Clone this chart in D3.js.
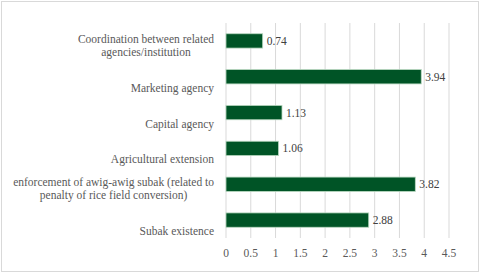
<!DOCTYPE html>
<html>
<head>
<meta charset="utf-8">
<script src="https://cdn.jsdelivr.net/npm/d3@7"></script>
<style>
  body { margin: 0; background: #fff; }
  svg { display: block; }
  text { font-family: "Liberation Serif", "Times New Roman", "DejaVu Serif", serif; }
</style>
</head>
<body>
<svg></svg>
<script>
const width = 480;
const height = 274;

// data, top to bottom as drawn
const categories = [
    ["Coordination between related", "agencies/institution"],
    ["Marketing agency"],
    ["Capital agency"],
    ["Agricultural extension"],
    ["enforcement of awig-awig subak (related to", "penalty of rice field conversion)"],
    ["Subak existence"]
];
const values = [0.74, 3.94, 1.13, 1.06, 3.82, 2.88];
const xTicks = [0, 0.5, 1, 1.5, 2, 2.5, 3, 3.5, 4, 4.5];

const svg = d3.select("svg").attr("width", width).attr("height", height);

// chart frame
svg.append("rect")
    .attr("x", 1.5).attr("y", 1.5)
    .attr("width", width - 3).attr("height", height - 4)
    .attr("fill", "#fff")
    .attr("stroke", "#d9d9d9");

const plotLeft = 226, plotRight = 449, plotTop = 23, plotBottom = 238;

const x = d3.scaleLinear().domain([0, 4.5]).range([plotLeft, plotRight]);
const y = d3.scaleBand().domain(d3.range(values.length)).range([plotTop, plotBottom]).paddingInner(0.6).paddingOuter(0.3);

// gridlines
svg.append("g")
    .selectAll("line")
    .data(xTicks)
    .enter().append("line")
    .attr("x1", d => x(d)).attr("x2", d => x(d))
    .attr("y1", plotTop).attr("y2", plotBottom)
    .attr("stroke", "#d9d9d9")
    .attr("stroke-width", 1);

// x tick labels
svg.append("g")
    .selectAll("text")
    .data(xTicks)
    .enter().append("text")
    .attr("x", d => x(d))
    .attr("y", 257)
    .attr("text-anchor", "middle")
    .attr("font-size", "11.5px")
    .attr("fill", "#595959")
    .text(d => d);

// bars
svg.append("g")
    .selectAll("rect")
    .data(values)
    .enter().append("rect")
    .attr("x", x(0))
    .attr("y", (d, i) => y(i))
    .attr("width", d => x(d) - x(0))
    .attr("height", y.bandwidth())
    .attr("fill", "#005426")
    .attr("stroke", "#b8d8c0")
    .attr("stroke-width", 0.8);

// value labels
svg.append("g")
    .selectAll("text")
    .data(values)
    .enter().append("text")
    .attr("x", d => x(d) + 4)
    .attr("y", (d, i) => y(i) + y.bandwidth() / 2 + 4)
    .attr("font-size", "11.5px")
    .attr("fill", "#404040")
    .text(d => d.toFixed(2));

// category labels: lines centred within the block, block right-aligned, last line below bar centre
const labelRight = 214;
categories.forEach((lines, i) => {
    const g = svg.append("g");
    const cy = y(i) + y.bandwidth() / 2;
    const texts = lines.map((line, j) => g.append("text")
        .attr("y", cy + 15 - (lines.length - 1 - j) * 13)
        .attr("text-anchor", "middle")
        .attr("font-size", "11.5px")
        .attr("fill", "#595959")
        .text(line));
    const w = d3.max(texts, t => t.node().getComputedTextLength());
    texts.forEach(t => t.attr("x", labelRight - w / 2));
});
</script>
</body>
</html>
